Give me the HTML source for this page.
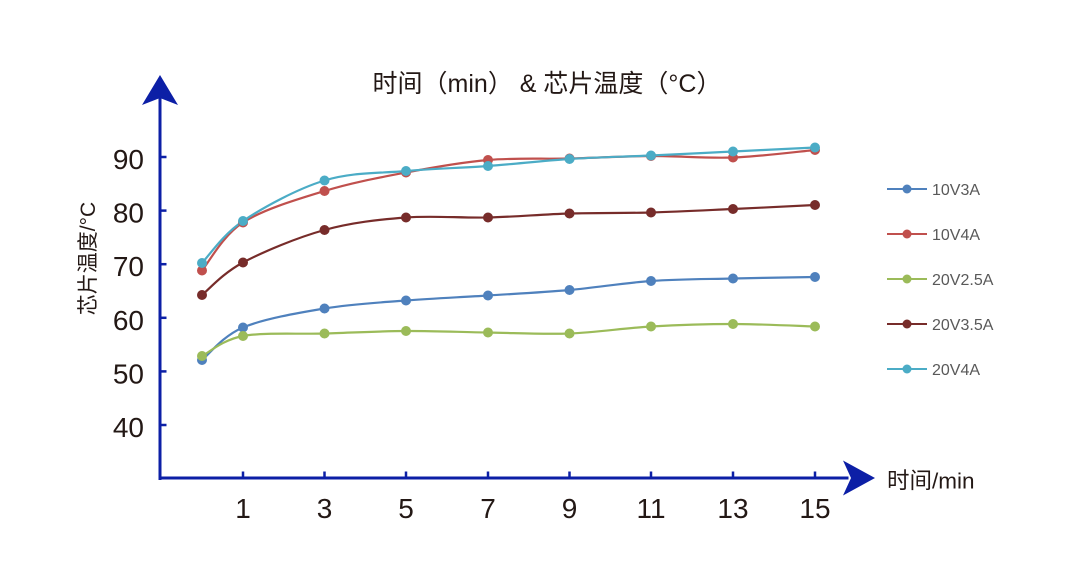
<!DOCTYPE html>
<html>
<head>
<meta charset="utf-8">
<style>
html,body{margin:0;padding:0;background:#fff;}
svg{display:block;}
text{font-family:"Liberation Sans","Noto Sans CJK SC",sans-serif;}
</style>
</head>
<body>
<svg width="1080" height="568" viewBox="0 0 1080 568" xmlns="http://www.w3.org/2000/svg">
<rect width="1080" height="568" fill="#fff"/>

<!-- Title -->
<text x="547" y="92" font-size="25" fill="#231815" text-anchor="middle">时间（min） &amp; 芯片温度（°C）</text>

<!-- Axes -->
<g fill="#0c1fa6" stroke="none">
  <rect x="158.5" y="98" width="3" height="382"/>
  <rect x="158.5" y="476.5" width="690" height="3"/>
  <polygon points="160,75 178,105 160,98 142,105"/>
  <polygon points="875,478 843,460.5 851,478 843,495.5"/>
</g>
<g stroke="#0c1fa6" stroke-width="2.5">
  <line x1="160" y1="157" x2="166.5" y2="157"/>
  <line x1="160" y1="210.6" x2="166.5" y2="210.6"/>
  <line x1="160" y1="264.2" x2="166.5" y2="264.2"/>
  <line x1="160" y1="317.8" x2="166.5" y2="317.8"/>
  <line x1="160" y1="371.4" x2="166.5" y2="371.4"/>
  <line x1="160" y1="425" x2="166.5" y2="425"/>
  <line x1="243" y1="478" x2="243" y2="471.5"/>
  <line x1="324.5" y1="478" x2="324.5" y2="471.5"/>
  <line x1="406" y1="478" x2="406" y2="471.5"/>
  <line x1="488" y1="478" x2="488" y2="471.5"/>
  <line x1="569.5" y1="478" x2="569.5" y2="471.5"/>
  <line x1="651" y1="478" x2="651" y2="471.5"/>
  <line x1="733" y1="478" x2="733" y2="471.5"/>
  <line x1="815" y1="478" x2="815" y2="471.5"/>
</g>

<!-- Y tick labels -->
<g font-size="28" fill="#231815" text-anchor="end">
  <text x="144" y="169">90</text>
  <text x="144" y="222.6">80</text>
  <text x="144" y="276.2">70</text>
  <text x="144" y="329.8">60</text>
  <text x="144" y="383.4">50</text>
  <text x="144" y="437">40</text>
</g>
<!-- X tick labels -->
<g font-size="28" fill="#231815" text-anchor="middle">
  <text x="243" y="518">1</text>
  <text x="324.5" y="518">3</text>
  <text x="406" y="518">5</text>
  <text x="488" y="518">7</text>
  <text x="569.5" y="518">9</text>
  <text x="651" y="518">11</text>
  <text x="733" y="518">13</text>
  <text x="815" y="518">15</text>
</g>

<!-- Axis titles -->
<text transform="translate(95,258.5) rotate(-90)" font-size="21" fill="#231815" text-anchor="middle">芯片温度/°C</text>
<text x="887" y="488.5" font-size="22.5" fill="#231815">时间/min</text>

<!-- Series -->
<g fill="none" stroke-width="2.2" stroke-linejoin="round" stroke-linecap="round">
  <path stroke="#4f81bd" d="M202,360 C208.8,354.58 222.6,336.08 243,327.5 C263.4,318.92 297.3,313 324.5,308.5 C351.7,304 378.75,302.67 406,300.5 C433.25,298.33 460.75,297.25 488,295.5 C515.25,293.75 542.3,292.42 569.5,290 C596.7,287.58 623.75,282.92 651,281 C678.25,279.08 705.7,279.17 733,278.5 C760.3,277.83 801.3,277.25 815,277"/>
  <path stroke="#c0504d" d="M202,270.5 C208.8,262.5 222.6,235.75 243,222.5 C263.4,209.25 297.3,199.33 324.5,191 C351.7,182.67 378.75,177.67 406,172.5 C433.25,167.33 460.75,162.33 488,160 C515.25,157.67 542.3,159.17 569.5,158.5 C596.7,157.83 623.75,156.17 651,156 C678.25,155.83 705.7,158.5 733,157.5 C760.3,156.5 801.3,151.25 815,150"/>
  <path stroke="#9bbb59" d="M202,356 C208.8,352.67 222.6,339.75 243,336 C263.4,332.25 297.3,334.33 324.5,333.5 C351.7,332.67 378.75,331.17 406,331 C433.25,330.83 460.75,332.08 488,332.5 C515.25,332.92 542.3,334.5 569.5,333.5 C596.7,332.5 623.75,328.08 651,326.5 C678.25,324.92 705.7,324 733,324 C760.3,324 801.3,326.08 815,326.5"/>
  <path stroke="#772c2a" d="M202,295 C208.8,289.58 222.6,273.33 243,262.5 C263.4,251.67 297.3,237.5 324.5,230 C351.7,222.5 378.75,219.58 406,217.5 C433.25,215.42 460.75,218.17 488,217.5 C515.25,216.83 542.3,214.33 569.5,213.5 C596.7,212.67 623.75,213.25 651,212.5 C678.25,211.75 705.7,210.25 733,209 C760.3,207.75 801.3,205.67 815,205"/>
  <path stroke="#4bacc6" d="M202,263 C208.8,256 222.6,234.75 243,221 C263.4,207.25 297.3,188.83 324.5,180.5 C351.7,172.17 378.75,173.42 406,171 C433.25,168.58 460.75,168 488,166 C515.25,164 542.3,160.75 569.5,159 C596.7,157.25 623.75,156.75 651,155.5 C678.25,154.25 705.7,152.83 733,151.5 C760.3,150.17 801.3,148.17 815,147.5"/>
</g>

<!-- Markers -->
<g fill="#4f81bd">
  <circle cx="202" cy="360" r="5"/><circle cx="243" cy="327.5" r="5"/><circle cx="324.5" cy="308.5" r="5"/><circle cx="406" cy="300.5" r="5"/><circle cx="488" cy="295.5" r="5"/><circle cx="569.5" cy="290" r="5"/><circle cx="651" cy="281" r="5"/><circle cx="733" cy="278.5" r="5"/><circle cx="815" cy="277" r="5"/>
</g>
<g fill="#c0504d">
  <circle cx="202" cy="270.5" r="5"/><circle cx="243" cy="222.5" r="5"/><circle cx="324.5" cy="191" r="5"/><circle cx="406" cy="172.5" r="5"/><circle cx="488" cy="160" r="5"/><circle cx="569.5" cy="158.5" r="5"/><circle cx="651" cy="156" r="5"/><circle cx="733" cy="157.5" r="5"/><circle cx="815" cy="150" r="5"/>
</g>
<g fill="#9bbb59">
  <circle cx="202" cy="356" r="5"/><circle cx="243" cy="336" r="5"/><circle cx="324.5" cy="333.5" r="5"/><circle cx="406" cy="331" r="5"/><circle cx="488" cy="332.5" r="5"/><circle cx="569.5" cy="333.5" r="5"/><circle cx="651" cy="326.5" r="5"/><circle cx="733" cy="324" r="5"/><circle cx="815" cy="326.5" r="5"/>
</g>
<g fill="#772c2a">
  <circle cx="202" cy="295" r="5"/><circle cx="243" cy="262.5" r="5"/><circle cx="324.5" cy="230" r="5"/><circle cx="406" cy="217.5" r="5"/><circle cx="488" cy="217.5" r="5"/><circle cx="569.5" cy="213.5" r="5"/><circle cx="651" cy="212.5" r="5"/><circle cx="733" cy="209" r="5"/><circle cx="815" cy="205" r="5"/>
</g>
<g fill="#4bacc6">
  <circle cx="202" cy="263" r="5"/><circle cx="243" cy="221" r="5"/><circle cx="324.5" cy="180.5" r="5"/><circle cx="406" cy="171" r="5"/><circle cx="488" cy="166" r="5"/><circle cx="569.5" cy="159" r="5"/><circle cx="651" cy="155.5" r="5"/><circle cx="733" cy="151.5" r="5"/><circle cx="815" cy="147.5" r="5"/>
</g>

<!-- Legend -->
<g stroke-width="2">
  <line x1="887" y1="189" x2="927" y2="189" stroke="#4f81bd"/>
  <line x1="887" y1="234" x2="927" y2="234" stroke="#c0504d"/>
  <line x1="887" y1="279" x2="927" y2="279" stroke="#9bbb59"/>
  <line x1="887" y1="324" x2="927" y2="324" stroke="#772c2a"/>
  <line x1="887" y1="369" x2="927" y2="369" stroke="#4bacc6"/>
</g>
<circle cx="907" cy="189" r="4.5" fill="#4f81bd"/>
<circle cx="907" cy="234" r="4.5" fill="#c0504d"/>
<circle cx="907" cy="279" r="4.5" fill="#9bbb59"/>
<circle cx="907" cy="324" r="4.5" fill="#772c2a"/>
<circle cx="907" cy="369" r="4.5" fill="#4bacc6"/>
<g font-size="16" fill="#595959">
  <text x="932" y="195">10V3A</text>
  <text x="932" y="240">10V4A</text>
  <text x="932" y="285">20V2.5A</text>
  <text x="932" y="330">20V3.5A</text>
  <text x="932" y="375">20V4A</text>
</g>
</svg>
</body>
</html>
